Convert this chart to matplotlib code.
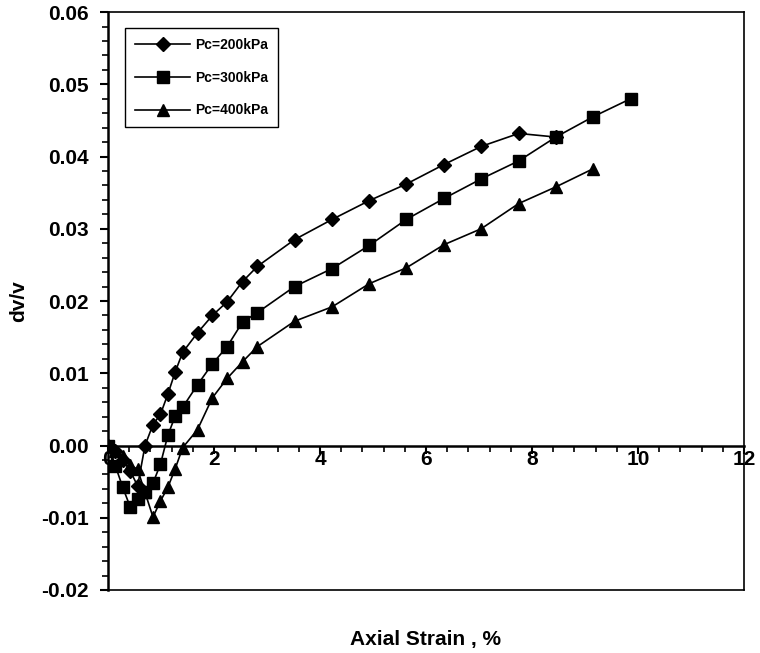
import numpy as np
import matplotlib
matplotlib.use("Agg")
import matplotlib.pyplot as plt
from matplotlib.ticker import MultipleLocator, FormatStrFormatter

plt.rcParams['font.family'] = ['Liberation Sans', 'DejaVu Sans']
plt.rcParams['font.weight'] = 'bold'

# strain (%) and volumetric strain for each confining pressure
strain_200 = [0, 0.14, 0.28, 0.42, 0.56, 0.70, 0.85, 0.99, 1.13, 1.27, 1.41, 1.69, 1.97,
              2.25, 2.54, 2.82, 3.52, 4.23, 4.93, 5.63, 6.34, 7.04, 7.75, 8.45]
dv_200 = [0, -0.0008, -0.0020, -0.0035, -0.0056, 0.0, 0.0029, 0.0043, 0.0071, 0.0102,
          0.0129, 0.0156, 0.0180, 0.0199, 0.0227, 0.0248, 0.0285, 0.0313, 0.0339, 0.0362,
          0.0389, 0.0414, 0.0432, 0.0427]

strain_300 = [0, 0.14, 0.28, 0.42, 0.56, 0.70, 0.85, 0.99, 1.13, 1.27, 1.41, 1.69, 1.97,
              2.25, 2.54, 2.82, 3.52, 4.23, 4.93, 5.63, 6.34, 7.04, 7.75, 8.45, 9.15, 9.86]
dv_300 = [0, -0.0028, -0.0058, -0.0085, -0.0074, -0.0065, -0.0052, -0.0026, 0.0014, 0.0041,
          0.0053, 0.0084, 0.0113, 0.0137, 0.0171, 0.0184, 0.0220, 0.0245, 0.0277, 0.0313,
          0.0342, 0.0369, 0.0394, 0.0427, 0.0455, 0.0480]

strain_400 = [0, 0.14, 0.28, 0.42, 0.56, 0.70, 0.85, 0.99, 1.13, 1.27, 1.41, 1.69, 1.97,
              2.25, 2.54, 2.82, 3.52, 4.23, 4.93, 5.63, 6.34, 7.04, 7.75, 8.45, 9.15]
dv_400 = [0, -0.0008, -0.0015, -0.0027, -0.0033, -0.0065, -0.0099, -0.0077, -0.0058, -0.0032,
          -0.0003, 0.0022, 0.0066, 0.0093, 0.0116, 0.0137, 0.0172, 0.0192, 0.0224, 0.0246,
          0.0278, 0.0300, 0.0335, 0.0358, 0.0383]

labels = ['Pc=200kPa', 'Pc=300kPa', 'Pc=400kPa']

fig = plt.figure(figsize=(7.6, 6.53), dpi=100)
ax = fig.add_axes([0.142, 0.0965, 0.837, 0.885])

ax.plot(strain_200, dv_200, color='black', lw=1.2, marker='D', ms=7, label=labels[0])
ax.plot(strain_300, dv_300, color='black', lw=1.2, marker='s', ms=9, label=labels[1])
ax.plot(strain_400, dv_400, color='black', lw=1.2, marker='^', ms=9, label=labels[2])

ax.set_xlim(0, 12)
ax.set_ylim(-0.02, 0.06)

# x axis crosses at dv/v = 0, box kept around the plot
ax.spines['bottom'].set_position(('data', 0))
ax.axhline(-0.02, color='black', lw=1.2, clip_on=False)
for s in ['left', 'bottom', 'top', 'right']:
    ax.spines[s].set_linewidth(1.2)
ax.spines['left'].set_linewidth(1.8)
ax.spines['bottom'].set_linewidth(1.8)

ax.xaxis.set_major_locator(MultipleLocator(2))
ax.xaxis.set_minor_locator(MultipleLocator(0.4))
ax.yaxis.set_major_locator(MultipleLocator(0.01))
ax.yaxis.set_minor_locator(MultipleLocator(0.002))
ax.yaxis.set_major_formatter(FormatStrFormatter('%.2f'))

ax.tick_params(axis='both', which='major', direction='out', length=6, width=1.5,
               labelsize=15, colors='black')
ax.tick_params(axis='both', which='minor', direction='out', length=4, width=1.2)
ax.tick_params(axis='x', which='both', pad=-3)
ax.tick_params(axis='y', which='both', pad=8)
for t in ax.get_xticklabels() + ax.get_yticklabels():
    t.set_fontweight('bold')

ax.set_xlabel('Axial Strain , %', fontsize=15, fontweight='bold')
ax.xaxis.set_label_coords(0.5, -0.07)
ax.set_ylabel('dv/v', fontsize=15, fontweight='bold')
ax.yaxis.set_label_coords(-0.125, 0.5)

leg = ax.legend(loc='upper left', bbox_to_anchor=(0.027, 0.972), borderaxespad=0,
                fancybox=False, edgecolor='black', framealpha=1, handlelength=4,
                handletextpad=0.35, labelspacing=1.35, borderpad=0.7,
                prop={'weight': 'bold', 'size': 10})
leg.get_frame().set_linewidth(1.0)

fig.savefig('out.png', dpi=100)
